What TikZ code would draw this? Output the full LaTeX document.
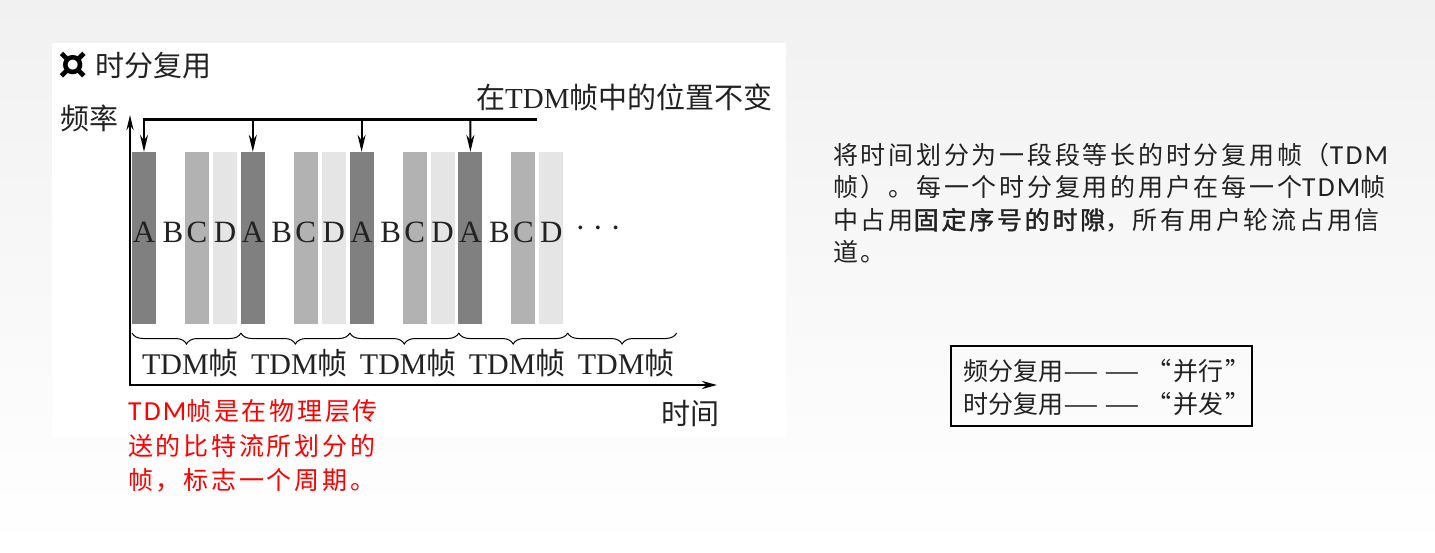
\documentclass[tikz,border=0pt]{standalone}
\usepackage{graphicx}
\usepackage{fontspec}
\setmainfont{Liberation Serif}
\newfontfamily\cjk{Noto Sans CJK SC}
\newfontfamily\cjkr[LetterSpace=11]{Noto Sans CJK SC}
\newfontfamily\cjkb[FakeBold=1.6,LetterSpace=11]{Noto Sans CJK SC}
\newfontfamily\calr[LetterSpace=8,Scale=1.1]{Carlito}
\newfontfamily\dvs{DejaVu Sans}
\usetikzlibrary{arrows.meta,decorations.pathreplacing,calc}
\definecolor{barA}{HTML}{808080}
\definecolor{barC}{HTML}{B2B2B2}
\definecolor{barD}{HTML}{E5E5E5}
\definecolor{ink}{HTML}{222222}
\definecolor{bgtop}{HTML}{F1F1F1}
\newcommand{\wdash}{\scalebox{1.6}[1]{—}}
\tikzset{
  bar/.style={minimum width=24pt,minimum height=172pt,inner sep=0pt,draw=none},
  letter/.style={font=\fontsize{31}{31}\selectfont,text=ink,inner sep=0pt},
  dlabel/.style={font=\fontsize{29}{29}\selectfont,text=ink,inner sep=0pt},
  axis/.style={line width=2.6pt,black},
  sarr/.style={line width=2pt,-{Stealth[length=17pt,width=8pt]}},
  fbrace/.style={line width=1pt,decorate,decoration={brace,mirror,amplitude=11pt}},
  redtxt/.style={text=red,inner sep=0pt,anchor=west,font=\fontsize{25}{25}\selectfont},
  bodytxt/.style={text=ink,inner sep=0pt,anchor=west,font=\fontsize{25}{25}\selectfont},
}
\begin{document}
\begin{tikzpicture}[x=1pt,y=-1pt]
\useasboundingbox (0,0) rectangle (1435,552);
\shade[top color=bgtop,bottom color=white] (0,0) rectangle (1435,552);
\fill[white] (52,43) rectangle (786,438);
% title
\node[inner sep=0pt,font=\fontsize{46}{46}\selectfont\bfseries\dvs] (sym) at (73,66) {¤};
\node[dlabel,anchor=west] (title) at (95,66) {\cjk 时分复用};
\node[dlabel,anchor=east] (freq) at (119,118) {\cjk 频率};
\node[dlabel,anchor=west] (pos) at (476,97) {{\cjk 在}TDM{\cjk 帧中的位置不变}};
% bars
\foreach \k in {0,1,2,3}{
  \pgfmathsetmacro{\off}{108.8*\k}
  \node[bar,fill=barA] (a\k) at (144+\off,238) {};
  \node[bar,fill=barC] (c\k) at (197+\off,238) {};
  \node[bar,fill=barD] (d\k) at (225+\off,238) {};
  \node[letter] (la\k) at (144+\off,232) {A};
  \node[letter] (lb\k) at (173+\off,232) {B};
  \node[letter] (lc\k) at (197+\off,232) {C};
  \node[letter] (ld\k) at (225+\off,232) {D};
}
\node[inner sep=0pt,text=ink,font=\fontsize{32}{32}\selectfont] (dots) at (598,232) {·\hspace{7pt}·\hspace{7pt}·};
% top bracket with arrows
\coordinate (t0) at (144,119);
\coordinate (t1) at (252.8,119);
\coordinate (t2) at (361.6,119);
\coordinate (t3) at (470.4,119);
\coordinate (tend) at (537,119);
\draw[line width=3pt] ($(t0)+(-1.5,0)$) -- (tend);
\foreach \k in {0,1,2,3}{
  \draw[sarr] (t\k) -- (a\k.north);
}
% axes
\coordinate (o) at (130,385);
\coordinate (xe) at (717,385);
\coordinate (ye) at (130,115);
\draw[axis,{Stealth[length=15pt,width=7pt]}-{Stealth[length=15pt,width=8pt]}] (ye) -- (o) -- (xe);
\node[dlabel] (time) at (690,414) {\cjk 时间};
% braces and frame labels
\foreach \k in {0,1,2,3,4}{
  \pgfmathsetmacro{\xa}{132+108.9*\k}
  \pgfmathsetmacro{\xb}{241+108.9*\k}
  \draw[fbrace] (\xa,333) -- (\xb,333);
  \node[dlabel,font=\fontsize{30}{30}\selectfont] (f\k) at ({(\xa+\xb)/2+4},363) {TDM{\cjk 帧}};
}
% red note
\node[redtxt] (r1) at (128,411) {\calr TDM\cjkr 帧是在物理层传};
\node[redtxt] (r2) at (128,446) {\cjkr 送的比特流所划分的};
\node[redtxt] (r3) at (128,480) {\cjkr 帧，标志一个周期。};
% right text
\node[bodytxt] (p1) at (833,155) {\cjkr 将时间划分为一段段等长的时分复用帧（\calr TDM};
\node[bodytxt] (p2) at (833,187) {\cjkr 帧）。每一个时分复用的用户在每一个\calr TDM\cjkr 帧};
\node[bodytxt] (p3) at (833,220) {\cjkr 中占用\cjkb 固定序号的时隙\cjkr ，所有用户轮流占用信};
\node[bodytxt] (p4) at (833,252) {\cjkr 道。};
% box
\node[draw=black,line width=1.5pt,minimum width=301pt,minimum height=80pt,inner sep=0pt] (box) at (1101.5,386) {};
\node[bodytxt,font=\fontsize{25}{25}\selectfont] (b1) at (963,371) {\cjk 频分复用\wdash\hspace{6pt}\wdash\hspace{6pt}“\hspace{2pt}并行\hspace{2pt}”};
\node[bodytxt,font=\fontsize{25}{25}\selectfont] (b2) at (963,404) {\cjk 时分复用\wdash\hspace{6pt}\wdash\hspace{6pt}“\hspace{2pt}并发\hspace{2pt}”};
\end{tikzpicture}
\end{document}
